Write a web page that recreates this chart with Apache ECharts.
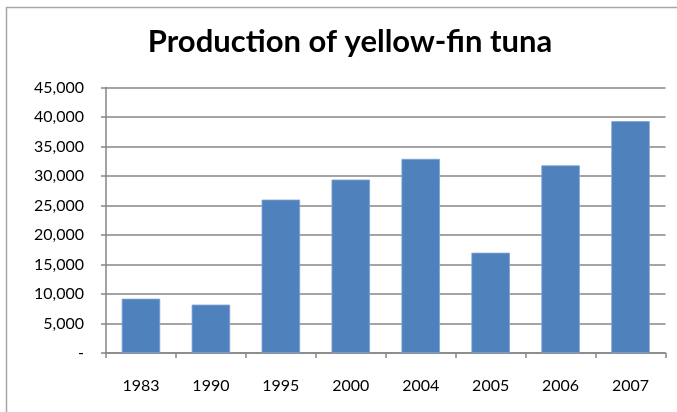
<!DOCTYPE html>
<html>
<head>
<meta charset="utf-8">
<title>Production of yellow-fin tuna</title>
<script src="https://cdn.jsdelivr.net/npm/echarts@6/dist/echarts.min.js"></script>
<style>
  html, body { margin: 0; padding: 0; background: #ffffff; }
  #chart { width: 677px; height: 412px; }
</style>
</head>
<body>
<div id="chart"></div>
<script>
// Yellow-fin tuna production by year
const years = ['1983', '1990', '1995', '2000', '2004', '2005', '2006', '2007'];
const production = [9200, 8200, 26000, 29400, 32900, 17000, 31800, 39300];
const yTicks = [0, 5000, 10000, 15000, 20000, 25000, 30000, 35000, 40000, 45000];

const chart = echarts.init(document.getElementById('chart'), null, { renderer: 'canvas' });

const fontFamily = 'Lato, "Open Sans", "Liberation Sans", sans-serif';
const gridGray = '#868686';

chart.setOption({
  animation: false,
  backgroundColor: '#ffffff',
  title: {
    text: 'Production of yellow-fin tuna',
    left: 345,
    textAlign: 'center',
    top: 21,
    textStyle: {
      fontFamily: fontFamily,
      fontSize: 31,
      fontWeight: 'bold',
      color: '#000000'
    }
  },
  graphic: [{
    type: 'rect',
    shape: { x: 6.5, y: 7.5, width: 700, height: 500 },
    style: { fill: null, stroke: '#a6a6a6', lineWidth: 1.5 },
    silent: true,
    z: 100
  }],
  grid: {
    left: 106,
    right: 11.5,
    top: 87.5,
    bottom: 59,
    containLabel: false
  },
  xAxis: {
    type: 'category',
    data: years,
    axisLine: { lineStyle: { color: gridGray, width: 1.5 } },
    axisTick: { show: true, length: 5, lineStyle: { color: gridGray, width: 1.5 } },
    axisLabel: {
      margin: 25,
      fontFamily: fontFamily,
      fontSize: 16,
      color: '#000000'
    }
  },
  yAxis: {
    type: 'value',
    min: yTicks[0],
    max: yTicks[yTicks.length - 1],
    interval: yTicks[1] - yTicks[0],
    axisLine: { show: true, lineStyle: { color: gridGray, width: 1.5 } },
    axisTick: { show: true, length: 5, lineStyle: { color: gridGray, width: 1.5 } },
    splitLine: { show: true, lineStyle: { color: gridGray, width: 1.5 } },
    axisLabel: {
      margin: 22,
      fontFamily: fontFamily,
      fontSize: 16,
      color: '#000000',
      formatter: function (v) {
        return v === 0 ? '-' : v.toLocaleString('en-US');
      }
    }
  },
  series: [{
    type: 'bar',
    data: production,
    barWidth: '55%',
    itemStyle: {
      color: '#4f81bd',
      borderColor: '#7ea3d3',
      borderWidth: 0.8
    }
  }]
});
</script>
</body>
</html>
